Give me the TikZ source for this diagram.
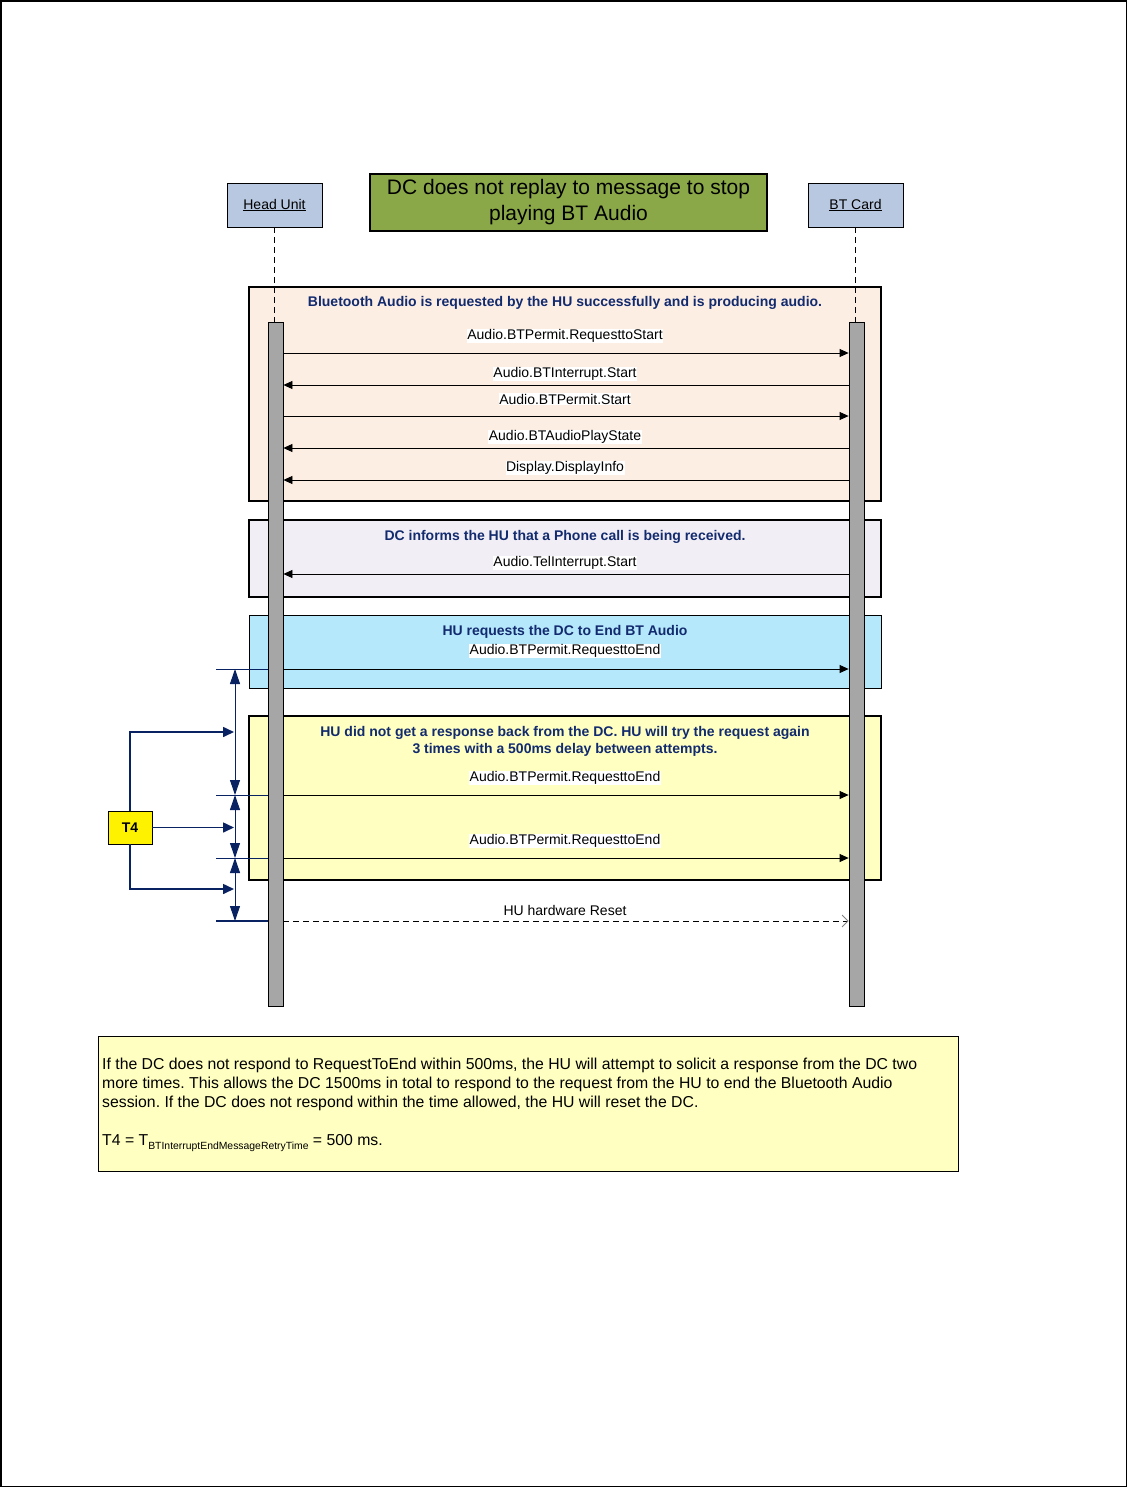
\documentclass[tikz,border=0pt]{standalone}
\usepackage{fontspec}
\setmainfont{Liberation Sans}
\usetikzlibrary{arrows.meta}
\frenchspacing
\definecolor{headfill}{RGB}{184,200,224}
\definecolor{titlefill}{RGB}{139,168,72}
\definecolor{peach}{RGB}{253,238,228}
\definecolor{lavender}{RGB}{241,239,245}
\definecolor{cyanbox}{RGB}{182,232,252}
\definecolor{lightyel}{RGB}{255,255,194}
\definecolor{navytext}{RGB}{18,42,110}
\definecolor{dimnavy}{RGB}{8,34,98}
\definecolor{bargrey}{RGB}{166,166,166}
\tikzset{
  actor/.style={draw=black, line width=0.8pt, fill=headfill, inner sep=0pt, font=\fontsize{14}{16}\selectfont},
  groupbox/.style={draw=black, line width=2pt, inner sep=0pt},
  grouptitle/.style={text=navytext, font=\fontsize{14}{17}\selectfont\bfseries, inner sep=0pt, align=center},
  msglabel/.style={fill=white, inner sep=0.5pt, font=\fontsize{14}{16}\selectfont},
  actbar/.style={draw=black, line width=0.8pt, fill=bargrey, inner sep=0pt, minimum width=15pt, minimum height=684pt},
  msg/.style={draw=black, line width=0.8pt, -{Triangle[length=9pt,width=8pt]}},
  tick/.style={draw=dimnavy, line width=0.8pt},
  dimarrow/.style={draw=dimnavy, line width=1pt, {Triangle[length=15pt,width=10pt]}-{Triangle[length=15pt,width=10pt]}},
  pointer/.style={draw=dimnavy, line width=1.6pt, -{Triangle[length=11pt,width=10pt]}},
}
\begin{document}
\begin{tikzpicture}[x=1pt,y=-1pt]
\useasboundingbox (0,0) rectangle (1128,1488);
\draw[line width=1.5pt] (1,1) rectangle (1126.5,1486.5);

% header boxes
\node[actor, minimum width=95pt, minimum height=44pt] (hu) at (274.5,205) {\underline{Head Unit}};
\node[actor, minimum width=95pt, minimum height=44pt] (bt) at (855.5,205) {\underline{BT Card}};
\node[draw=black, line width=1.2pt, fill=titlefill, minimum width=397pt, minimum height=57pt, inner sep=0pt, align=center,
      font=\fontsize{21}{26}\selectfont] (title) at (568.5,202.5) {DC does not replay to message to stop\\playing BT Audio};

% group boxes
\node[groupbox, fill=peach, minimum width=632pt, minimum height=214pt] (g1) at (565,394) {};
\node[groupbox, fill=lavender, minimum width=632pt, minimum height=77pt] (g2) at (565,558.5) {};
\node[groupbox, line width=1pt, fill=cyanbox, minimum width=632pt, minimum height=73pt] (g3) at (565,651.5) {};
\node[groupbox, fill=lightyel, minimum width=632pt, minimum height=164pt] (g4) at (565,798) {};

\node[grouptitle] (g1t) at (565,302.5) {Bluetooth Audio is requested by the HU successfully and is producing audio.};
\node[grouptitle] (g2t) at (565,536.5) {DC informs the HU that a Phone call is being received.};
\node[grouptitle] (g3t) at (565,631.5) {HU requests the DC to End BT Audio};
\node[grouptitle] (g4t) at (565,741) {HU did not get a response back from the DC. HU will try the request again\\3 times with a 500ms delay between attempts.};

% activation bars
\node[actbar] (hubar) at (275.5,664) {};
\node[actbar] (btbar) at (856.5,664) {};

% lifelines
\draw[line width=0.8pt, dash pattern=on 6pt off 4pt] (hu.south) -- (hu.south |- hubar.north);
\draw[line width=0.8pt, dash pattern=on 6pt off 4pt] (bt.south) -- (bt.south |- btbar.north);

% message y positions
\coordinate (m1) at (0,353);
\coordinate (m2) at (0,385);
\coordinate (m3) at (0,416);
\coordinate (m4) at (0,448);
\coordinate (m5) at (0,480);
\coordinate (m6) at (0,574);
\coordinate (t1) at (216,669);
\coordinate (t2) at (216,795);
\coordinate (t3) at (216,858);
\coordinate (t4c) at (216,921);

\draw[msg] (hubar.east |- m1) -- (btbar.west |- m1);
\draw[msg] (btbar.west |- m2) -- (hubar.east |- m2);
\draw[msg] (hubar.east |- m3) -- (btbar.west |- m3);
\draw[msg] (btbar.west |- m4) -- (hubar.east |- m4);
\draw[msg] (btbar.west |- m5) -- (hubar.east |- m5);
\draw[msg] (btbar.west |- m6) -- (hubar.east |- m6);
\draw[msg] (hubar.east |- t1) -- (btbar.west |- t1);
\draw[msg] (hubar.east |- t2) -- (btbar.west |- t2);
\draw[msg] (hubar.east |- t3) -- (btbar.west |- t3);
\draw[line width=0.8pt, dash pattern=on 6pt off 4pt, -{Straight Barb[length=6pt,width=12pt,line width=0.8pt,color=gray]}] (hubar.east |- t4c) -- (btbar.west |- t4c);

\node[msglabel] (l1) at (565,336) {Audio.BTPermit.RequesttoStart};
\node[msglabel] (l2) at (565,374) {Audio.BTInterrupt.Start};
\node[msglabel] (l3) at (565,399) {Audio.BTPermit.Start};
\node[msglabel] (l4) at (565,437) {Audio.BTAudioPlayState};
\node[msglabel] (l5) at (565,468) {Display.DisplayInfo};
\node[msglabel] (l6) at (565,563) {Audio.TelInterrupt.Start};
\node[msglabel] (l7) at (565,651) {Audio.BTPermit.RequesttoEnd};
\node[msglabel] (l8) at (565,778) {Audio.BTPermit.RequesttoEnd};
\node[msglabel] (l9) at (565,841) {Audio.BTPermit.RequesttoEnd};
\node[msglabel] (l10) at (565,910) {HU hardware Reset};

% timing ticks
\draw[tick] (t1) -- (hubar.west |- t1);
\draw[tick] (t2) -- (hubar.west |- t2);
\draw[tick] (t3) -- (hubar.west |- t3);
\draw[tick, line width=2.2pt] (t4c) -- (hubar.west |- t4c);

\coordinate (d1) at (235,669);
\coordinate (d2) at (235,795);
\coordinate (d3) at (235,858);
\coordinate (d4) at (235,921);
\draw[dimarrow] (d1) -- (d2);
\draw[dimarrow] (d2) -- (d3);
\draw[dimarrow] (d3) -- (d4);

% T4 label
\node[draw=black, line width=0.8pt, fill=yellow, minimum width=44pt, minimum height=33pt, inner sep=0pt,
      font=\fontsize{14}{16}\selectfont\bfseries] (T4) at (130,827.5) {T4};
\coordinate (a1) at (234,732);
\coordinate (a2) at (234,827.5);
\coordinate (a3) at (234,889);
\draw[pointer] (T4.north) |- (a1);
\draw[pointer] (T4.east) -- (a2);
\draw[pointer] (T4.south) |- (a3);

% note
\node[draw=black, line width=0.8pt, fill=lightyel, minimum width=860pt, minimum height=135pt, inner sep=0pt] (note) at (528,1103.5) {};
\node[anchor=north west, inner sep=0pt, align=left, font=\fontsize{15.8}{19}\selectfont] (notetext) at (102,1058)
{If the DC does not respond to RequestToEnd within 500ms, the HU will attempt to solicit a response from the DC two\\
more times. This allows the DC 1500ms in total to respond to the request from the HU to end the Bluetooth Audio\\
session. If the DC does not respond within the time allowed, the HU will reset the DC.\\[19pt]
T4 = T\raisebox{-3.5pt}{\fontsize{10.4}{11}\selectfont BTInterruptEndMessageRetryTime} = 500 ms.};
\end{tikzpicture}
\end{document}
